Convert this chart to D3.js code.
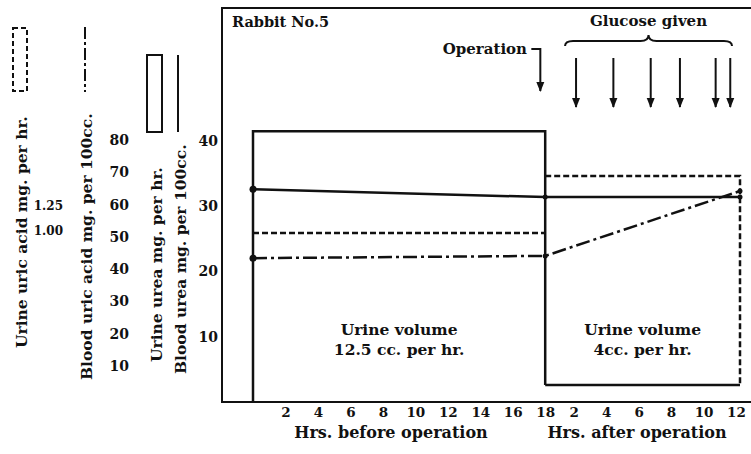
<!DOCTYPE html>
<html>
<head>
<meta charset="utf-8">
<script src="https://cdn.jsdelivr.net/npm/d3@7"></script>
<style>
  body { margin: 0; background: #fff; }
  svg text { font-family: "DejaVu Serif", serif; font-weight: bold; fill: #111; }
</style>
</head>
<body>
<svg id="chart" width="751" height="454"></svg>
<script>
// periods (hours relative to operation)
const periodStart = [-18, 0];
const periodEnd = [0, 12];
const urineUrea = [41.5, 2.6];        // mg per hr (solid boxes)
const urineUricAcid = [0.98, 1.55];   // mg per hr (dashed boxes)
const urineVolume = ["12.5 cc. per hr.", "4cc. per hr."];

// blood values
const bloodTimes = [-18, 0, 12];
const bloodUrea = [32.6, 31.4, 31.4];     // mg per 100cc
const bloodUricAcid = [43.4, 44.1, 64.2]; // mg per 100cc

const glucoseTimes = [1.9, 4.2, 6.5, 8.3, 10.5, 11.4];
const operationTime = -0.3;

const beforeTicks = [2, 4, 6, 8, 10, 12, 14, 16, 18];
const afterTicks = [2, 4, 6, 8, 10, 12];
const ureaTicks = [10, 20, 30, 40];
const bloodUricTicks = [10, 20, 30, 40, 50, 60, 70, 80];
const urineUricTicks = [1.00, 1.25];

const svg = d3.select("#chart");
const ink = "#111";

const x = d3.scaleLinear().domain([-18, 12]).range([253, 740]);
const yUrea = d3.scaleLinear().domain([0, 40]).range([402, 141]);
const yBloodUric = d3.scaleLinear().domain([10, 80]).range([366, 140]);
const yUrineUric = d3.scaleLinear().domain([1, 1.25]).range([231, 206]);

svg.append("defs").append("marker")
  .attr("id", "arrow")
  .attr("viewBox", "0 0 10 10")
  .attr("refX", 9).attr("refY", 5)
  .attr("markerWidth", 5).attr("markerHeight", 6)
  .attr("orient", "auto")
  .append("path").attr("d", "M0,1 L10,5 L0,9 Z").attr("fill", ink);

// frame
svg.append("path")
  .attr("d", "M751,8 H222 V402 H751")
  .attr("fill", "none").attr("stroke", ink).attr("stroke-width", 2);

// urine boxes: the after box sits on top of the tiny urea slab
const floorY = yUrea(urineUrea[1]);
svg.selectAll(".urea-box").data(urineUrea).enter().append("path")
  .attr("class", "urea-box")
  .attr("d", (d, i) => i === 0
    ? `M${x(periodStart[i])},${yUrea(0)} V${yUrea(d)} H${x(periodEnd[i])} V${floorY}`
    : `M${x(periodStart[i])},${yUrea(d)} H${x(periodEnd[i])}`)
  .attr("fill", "none").attr("stroke", ink).attr("stroke-width", 2.5);

svg.selectAll(".uric-box").data(urineUricAcid).enter().append("path")
  .attr("class", "uric-box")
  .attr("d", (d, i) => i === 0
    ? `M${x(periodStart[i])},${yUrineUric(d)} H${x(periodEnd[i])}`
    : `M${x(periodStart[i])},${yUrineUric(d)} H${x(periodEnd[i])} V${floorY}`)
  .attr("fill", "none").attr("stroke", ink).attr("stroke-width", 2.5)
  .attr("stroke-dasharray", "6,3");

// blood lines
const line = yS => d3.line().x((d, i) => x(bloodTimes[i])).y(d => yS(d));

svg.append("path").datum(bloodUrea)
  .attr("d", line(yUrea))
  .attr("fill", "none").attr("stroke", ink).attr("stroke-width", 2.5);

svg.append("path").datum(bloodUricAcid)
  .attr("d", line(yBloodUric))
  .attr("fill", "none").attr("stroke", ink).attr("stroke-width", 2.5)
  .attr("stroke-dasharray", "14,4,3,4");

svg.selectAll(".dot-urea").data(bloodUrea).enter().append("circle")
  .attr("cx", (d, i) => x(bloodTimes[i])).attr("cy", d => yUrea(d))
  .attr("r", (d, i) => i === 0 ? 3.5 : 2.5).attr("fill", ink);
svg.selectAll(".dot-uric").data(bloodUricAcid).enter().append("circle")
  .attr("cx", (d, i) => x(bloodTimes[i])).attr("cy", d => yBloodUric(d))
  .attr("r", (d, i) => i === 0 ? 3.5 : 2.5).attr("fill", ink);

// urine volume notes
urineVolume.forEach((v, i) => {
  const cx = (x(periodStart[i]) + x(periodEnd[i])) / 2;
  const t = svg.append("text").attr("text-anchor", "middle").attr("font-size", 15.5);
  t.append("tspan").attr("x", cx).attr("y", 335).text("Urine volume");
  t.append("tspan").attr("x", cx).attr("y", 355).text(v);
});

// x axes
const axB = svg.append("g").attr("transform", `translate(0,${yUrea(0)})`)
  .call(d3.axisBottom(x).tickValues(beforeTicks.map(d => d - 18))
    .tickFormat(d => d + 18).tickSize(0).tickPadding(5));
const axA = svg.append("g").attr("transform", `translate(-4,${yUrea(0)})`)
  .call(d3.axisBottom(x).tickValues(afterTicks).tickSize(0).tickPadding(5));
[axB, axA].forEach(g => {
  g.select(".domain").remove();
  g.selectAll("text").attr("font-size", 13.5).attr("font-family", "DejaVu Serif").attr("font-weight", "bold");
});

svg.append("text").attr("x", 391).attr("y", 438).attr("text-anchor", "middle")
  .attr("font-size", 16).text("Hrs. before operation");
svg.append("text").attr("x", 637).attr("y", 438).attr("text-anchor", "middle")
  .attr("font-size", 16).text("Hrs. after operation");

// y axes
const styleAxis = g => {
  g.select(".domain").remove();
  g.selectAll("text").attr("font-size", 14).attr("font-family", "DejaVu Serif").attr("font-weight", "bold");
};
svg.append("g").attr("transform", "translate(218,0)")
  .call(d3.axisLeft(yUrea).tickValues(ureaTicks).tickSize(0).tickPadding(0)).call(styleAxis);
svg.append("g").attr("transform", "translate(129,0)")
  .call(d3.axisLeft(yBloodUric).tickValues(bloodUricTicks).tickSize(0).tickPadding(0)).call(styleAxis);
svg.append("g").attr("transform", "translate(63,0)")
  .call(d3.axisLeft(yUrineUric).tickValues(urineUricTicks).tickFormat(d3.format(".2f"))
    .tickSize(0).tickPadding(0)).call(styleAxis)
  .selectAll("text").attr("font-size", 12);

// rotated axis titles
const vlabel = (cx, yBottom, txt) =>
  svg.append("text").attr("transform", `translate(${cx},${yBottom}) rotate(-90)`)
    .attr("font-size", 15.5).text(txt);
vlabel(27, 348, "Urine uric acid mg. per hr.");
vlabel(92, 380, "Blood uric acid mg. per 100cc.");
vlabel(162, 362, "Urine urea mg. per hr.");
vlabel(186, 374, "Blood urea mg. per 100cc.");

// legend keys
svg.append("rect").attr("x", 13).attr("y", 28).attr("width", 14).attr("height", 63)
  .attr("fill", "none").attr("stroke", ink).attr("stroke-width", 2).attr("stroke-dasharray", "5,3");
svg.append("line").attr("x1", 85).attr("x2", 85).attr("y1", 27).attr("y2", 92)
  .attr("stroke", ink).attr("stroke-width", 2).attr("stroke-dasharray", "12,3,3,3");
svg.append("rect").attr("x", 147).attr("y", 55).attr("width", 15).attr("height", 77)
  .attr("fill", "none").attr("stroke", ink).attr("stroke-width", 2);
svg.append("line").attr("x1", 178).attr("x2", 178).attr("y1", 55).attr("y2", 132)
  .attr("stroke", ink).attr("stroke-width", 2);

// annotations
svg.append("text").attr("x", 232).attr("y", 27).attr("font-size", 14.5).text("Rabbit No.5");
svg.append("text").attr("x", 527).attr("y", 54).attr("text-anchor", "end")
  .attr("font-size", 15).text("Operation");
svg.append("path")
  .attr("d", `M${x(operationTime) - 9},49 H${x(operationTime)} V91`)
  .attr("fill", "none").attr("stroke", ink).attr("stroke-width", 2)
  .attr("marker-end", "url(#arrow)");

svg.selectAll(".glucose").data(glucoseTimes).enter().append("line")
  .attr("x1", d => x(d)).attr("x2", d => x(d))
  .attr("y1", 58).attr("y2", 107)
  .attr("stroke", ink).attr("stroke-width", 2)
  .attr("marker-end", "url(#arrow)");

const b0 = x(glucoseTimes[0]) - 11, b1 = x(12) - 8, bm = (b0 + b1) / 2;
svg.append("path")
  .attr("d", `M${b0},46 Q${b0},41 ${b0 + 8},41 H${bm - 8} Q${bm},41 ${bm},35 Q${bm},41 ${bm + 8},41 H${b1 - 8} Q${b1},41 ${b1},46`)
  .attr("fill", "none").attr("stroke", ink).attr("stroke-width", 2);
svg.append("text").attr("x", bm).attr("y", 26).attr("text-anchor", "middle")
  .attr("font-size", 15).text("Glucose given");
</script>
</body>
</html>
